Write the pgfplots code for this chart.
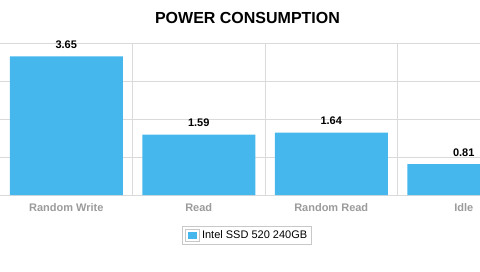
\documentclass[border=0pt]{standalone}
\usepackage{pgfplots}
\pgfplotsset{compat=1.18}
\usepackage{fontspec}
\setmainfont{Liberation Sans}
\definecolor{barblue}{RGB}{69,183,236}
\definecolor{gridgray}{RGB}{218,218,218}
\definecolor{labelgray}{RGB}{155,155,155}
\definecolor{legendgray}{RGB}{200,200,200}
\begin{document}
\begin{tikzpicture}[x=1pt,y=1pt]
\useasboundingbox (0,0) rectangle (480,271);
\node[anchor=base,font=\bfseries\fontsize{16}{19}\selectfont] at (247.5,247) {POWER CONSUMPTION};
\begin{axis}[
  at={(0pt,76pt)}, anchor=south west,
  scale only axis, width=480pt, height=152pt,
  xmin=-0.5, xmax=3.1226, ymin=0, ymax=4,
  axis line style={draw=none},
  major tick length=0pt, minor tick length=0pt,
  xtick={0,1,2,3},
  xticklabels={Random Write,Read,Random Read,Idle},
  minor xtick={0.5,1.5,2.5},
  xminorgrids=true,
  ytick={0,1,2,3,4}, yticklabels={},
  ymajorgrids=true,
  grid style={draw=gridgray, line width=0.9pt},
  minor grid style={draw=gridgray, line width=0.9pt},
  xticklabel style={anchor=base, yshift=-16.7pt, text=labelgray, font=\bfseries\fontsize{11}{13}\selectfont},
  ybar, bar width=113pt,
  nodes near coords,
  /pgf/number format/assume math mode=true,
  /pgf/number format/fixed, /pgf/number format/precision=2, /pgf/number format/fixed zerofill,
  nodes near coords style={anchor=base, yshift=8pt, font=\bfseries\fontsize{11}{13}\selectfont, text=black},
  legend style={at={(0.5146,-0.2664)}, anchor=center, draw=legendgray, line width=0.8pt,
    font=\fontsize{11}{13}\selectfont, inner xsep=2pt, inner ysep=2pt},
  legend image code/.code={
    \draw[draw=legendgray, line width=0.8pt, fill=white] (0pt,-5.6pt) rectangle (14.5pt,5.6pt);
    \fill[barblue] (2.4pt,-3.4pt) rectangle (12.1pt,3.4pt);
  },
]
\addplot[fill=barblue, draw=none] coordinates {(0,3.65) (1,1.59) (2,1.64) (3,0.81)};
\addlegendentry{Intel SSD 520 240GB}
\end{axis}
\end{tikzpicture}
\end{document}
